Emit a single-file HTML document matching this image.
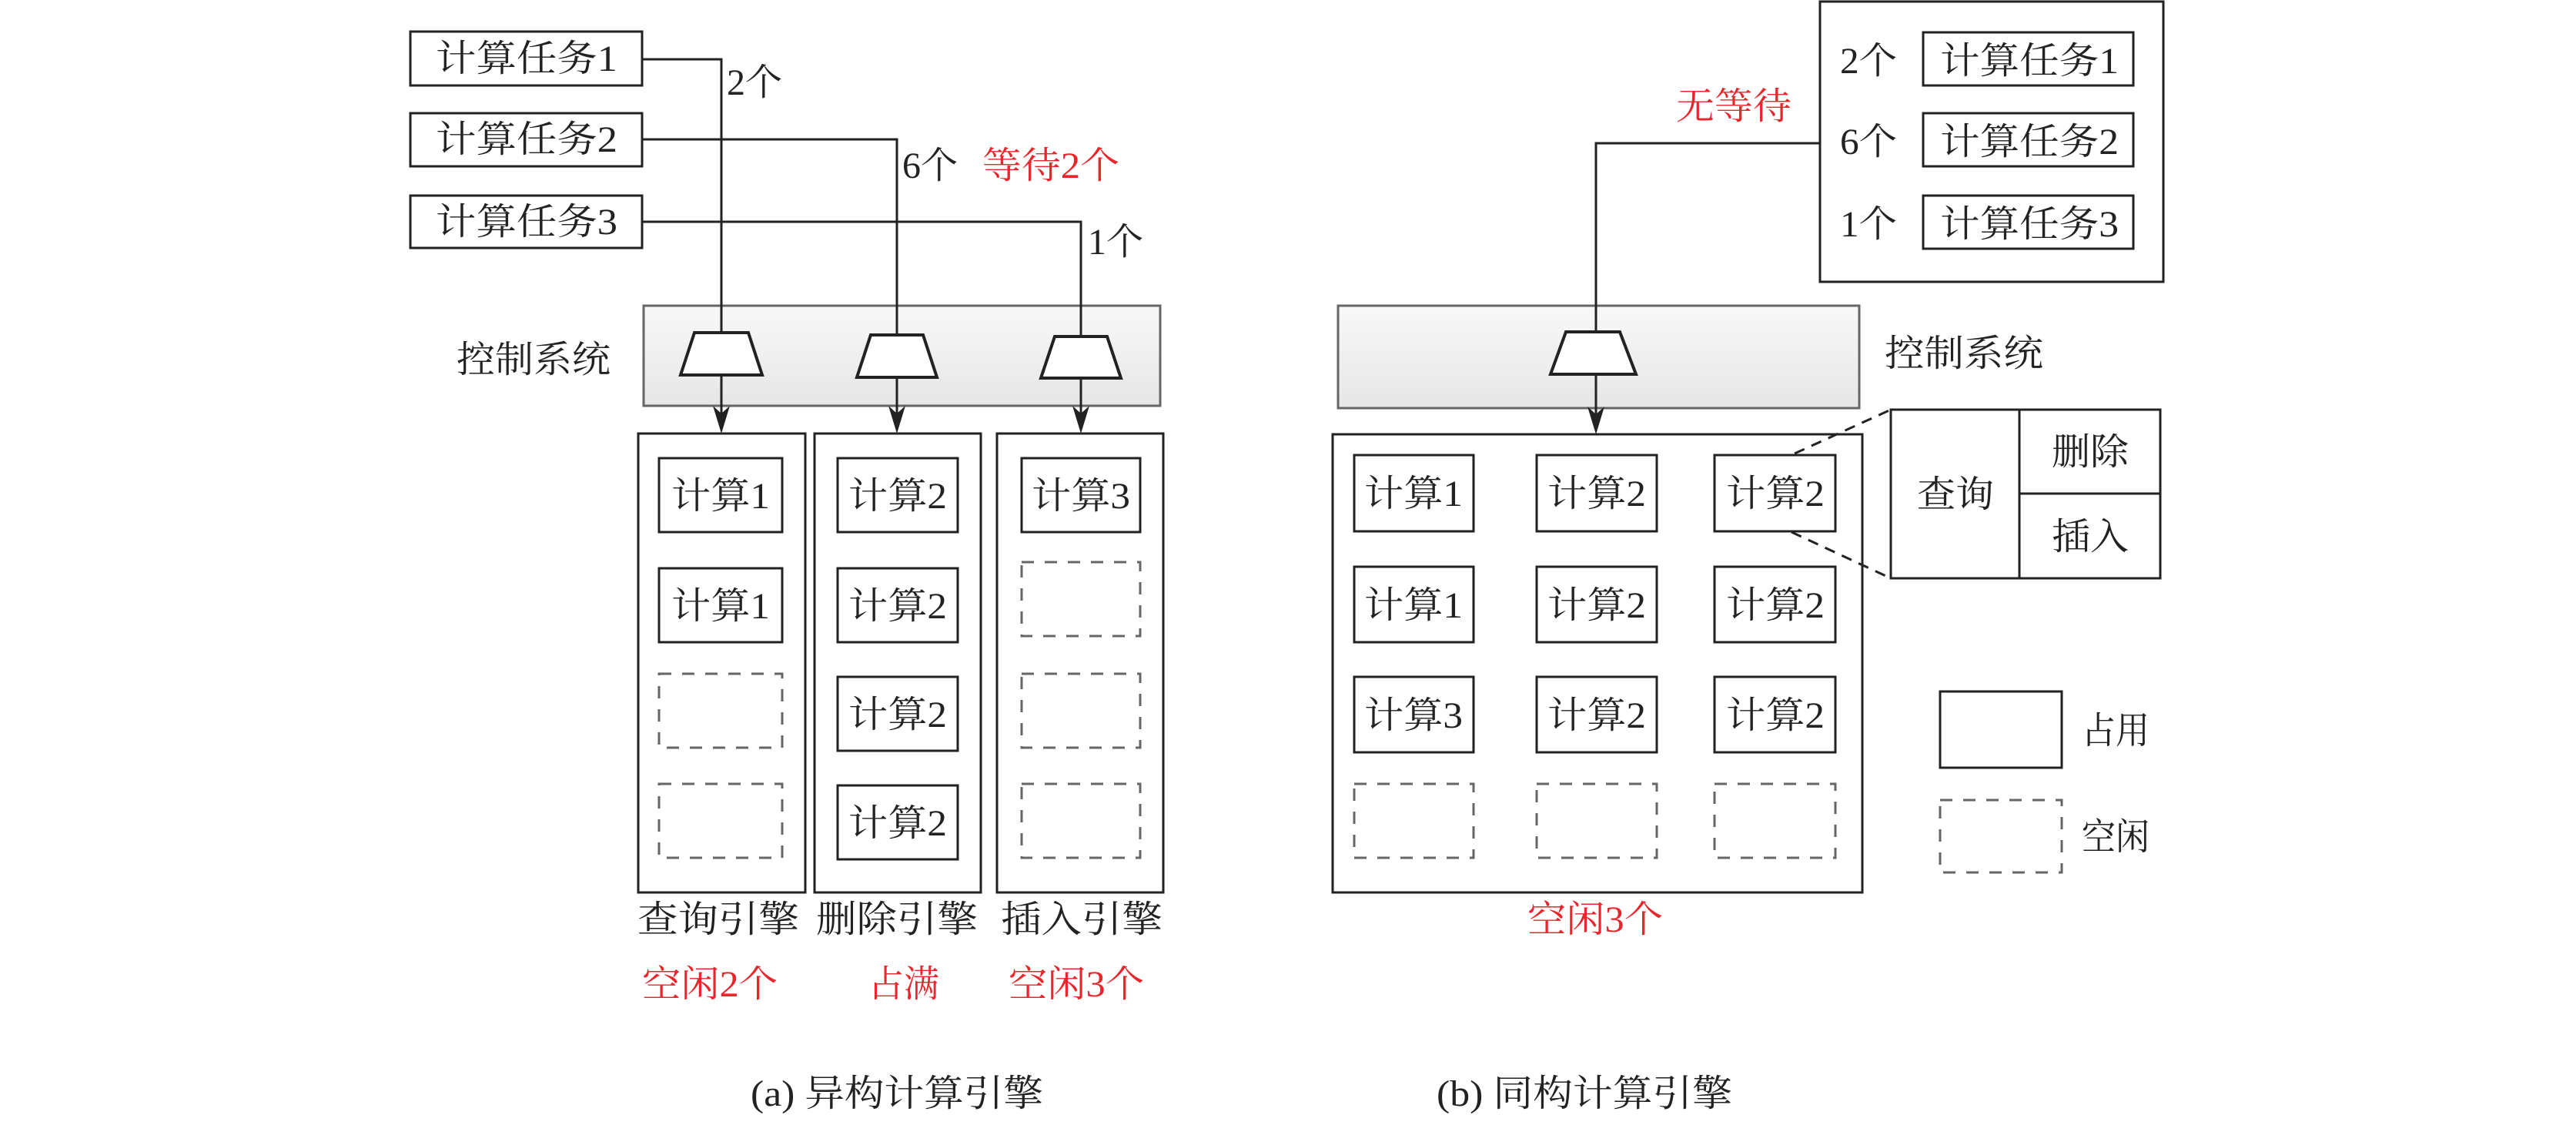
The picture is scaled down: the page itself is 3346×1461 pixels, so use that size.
<!DOCTYPE html>
<html><head><meta charset="utf-8"><style>
html,body{margin:0;padding:0;background:#fff;}
svg{display:block;}
text{font-family:"Liberation Serif","Noto Serif CJK SC",serif;font-size:48px;fill:#222;}
.r{fill:#e8262c;}
</style></head><body>
<svg width="3346" height="1461" viewBox="0 0 3346 1461" xmlns="http://www.w3.org/2000/svg">
<defs>
<linearGradient id="g" x1="0" y1="0" x2="0" y2="1"><stop offset="0" stop-color="#f8f8f8"/><stop offset="1" stop-color="#e6e6e6"/></linearGradient>
</defs>
<g stroke="#222" stroke-width="3" fill="none">
<rect x="533" y="41" width="301" height="70" fill="#fff"/>
<rect x="533" y="147" width="301" height="69" fill="#fff"/>
<rect x="533" y="254" width="301" height="68" fill="#fff"/>
<rect x="836" y="397" width="671" height="130" fill="url(#g)" stroke="#666"/>
<rect x="1738" y="397" width="677" height="133" fill="url(#g)" stroke="#666"/>
<polyline points="834,77 937,77 937,432"/>
<polyline points="834,181 1165,181 1165,435"/>
<polyline points="834,288 1404,288 1404,437"/>
<line x1="937" y1="487" x2="937" y2="540"/>
<line x1="1165" y1="490" x2="1165" y2="540"/>
<line x1="1404" y1="491" x2="1404" y2="540"/>
<polygon points="902,432 972,432 990,487 884,487" fill="#fff" stroke-width="4"/>
<polygon points="1131,435 1199,435 1217,490 1113,490" fill="#fff" stroke-width="4"/>
<polygon points="1370,437 1438,437 1456,491 1352,491" fill="#fff" stroke-width="4"/>
<rect x="829" y="563" width="217" height="596"/>
<rect x="1058" y="563" width="216" height="596"/>
<rect x="1295" y="563" width="216" height="596"/>
<rect x="856" y="595" width="160" height="96"/>
<rect x="856" y="738" width="160" height="96"/>
<rect x="1088" y="595" width="156" height="96"/>
<rect x="1088" y="738" width="156" height="96"/>
<rect x="1088" y="879" width="156" height="96"/>
<rect x="1088" y="1020" width="156" height="96"/>
<rect x="1327" y="595" width="154" height="96"/>
<g stroke="#666" stroke-dasharray="16,14">
<rect x="856" y="875" width="160" height="96"/>
<rect x="856" y="1018" width="160" height="96"/>
<rect x="1327" y="730" width="154" height="96"/>
<rect x="1327" y="875" width="154" height="96"/>
<rect x="1327" y="1018" width="154" height="96"/>
<rect x="1759" y="1018" width="155" height="96"/>
<rect x="1996" y="1018" width="156" height="96"/>
<rect x="2227" y="1018" width="157" height="96"/>
<rect x="2520" y="1039" width="158" height="94"/>
</g>
<rect x="2364" y="2" width="446" height="364"/>
<rect x="2498" y="42" width="273" height="69"/>
<rect x="2498" y="147" width="273" height="69"/>
<rect x="2498" y="254" width="273" height="69"/>
<polyline points="2364,186 2073,186 2073,431"/>
<line x1="2073" y1="486" x2="2073" y2="540"/>
<polygon points="2034,431 2104,431 2125,486 2014,486" fill="#fff" stroke-width="4"/>
<rect x="1731" y="564" width="688" height="595"/>
<rect x="1759" y="591" width="155" height="99"/>
<rect x="1996" y="591" width="156" height="99"/>
<rect x="2227" y="591" width="157" height="99"/>
<rect x="1759" y="736" width="155" height="98"/>
<rect x="1996" y="736" width="156" height="98"/>
<rect x="2227" y="736" width="157" height="98"/>
<rect x="1759" y="879" width="155" height="98"/>
<rect x="1996" y="879" width="156" height="98"/>
<rect x="2227" y="879" width="157" height="98"/>
<rect x="2456" y="532" width="350" height="219"/>
<line x1="2623" y1="532" x2="2623" y2="751"/>
<line x1="2623" y1="641" x2="2806" y2="641"/>
<line x1="2331" y1="589" x2="2456" y2="532" stroke-dasharray="14,10"/>
<line x1="2327" y1="691" x2="2456" y2="751" stroke-dasharray="14,10"/>
<rect x="2520" y="898" width="158" height="99"/>
</g>
<g fill="#222">
<polygon points="926,527 937,537 948,527 937,563"/>
<polygon points="1154,527 1165,537 1176,527 1165,563"/>
<polygon points="1393,527 1404,537 1415,527 1404,563"/>
<polygon points="2062,528 2073,538 2084,528 2073,564"/>
</g>
<g>
<text x="566" y="92" textLength="236" lengthAdjust="spacingAndGlyphs">计算任务1</text>
<text x="566" y="197" textLength="236" lengthAdjust="spacingAndGlyphs">计算任务2</text>
<text x="566" y="304" textLength="236" lengthAdjust="spacingAndGlyphs">计算任务3</text>
<text x="944" y="123" textLength="72" lengthAdjust="spacingAndGlyphs">2个</text>
<text x="1172" y="231" textLength="72" lengthAdjust="spacingAndGlyphs">6个</text>
<text class="r" x="1276" y="231" textLength="178" lengthAdjust="spacingAndGlyphs">等待2个</text>
<text x="1413" y="330" textLength="72" lengthAdjust="spacingAndGlyphs">1个</text>
<text x="593" y="483" textLength="200" lengthAdjust="spacingAndGlyphs">控制系统</text>
<text x="872" y="660" textLength="128" lengthAdjust="spacingAndGlyphs">计算1</text>
<text x="872" y="803" textLength="128" lengthAdjust="spacingAndGlyphs">计算1</text>
<text x="1102" y="660" textLength="128" lengthAdjust="spacingAndGlyphs">计算2</text>
<text x="1102" y="803" textLength="128" lengthAdjust="spacingAndGlyphs">计算2</text>
<text x="1102" y="944" textLength="128" lengthAdjust="spacingAndGlyphs">计算2</text>
<text x="1102" y="1085" textLength="128" lengthAdjust="spacingAndGlyphs">计算2</text>
<text x="1340" y="660" textLength="128" lengthAdjust="spacingAndGlyphs">计算3</text>
<text x="1772" y="657" textLength="128" lengthAdjust="spacingAndGlyphs">计算1</text>
<text x="2010" y="657" textLength="128" lengthAdjust="spacingAndGlyphs">计算2</text>
<text x="2242" y="657" textLength="128" lengthAdjust="spacingAndGlyphs">计算2</text>
<text x="1772" y="802" textLength="128" lengthAdjust="spacingAndGlyphs">计算1</text>
<text x="2010" y="802" textLength="128" lengthAdjust="spacingAndGlyphs">计算2</text>
<text x="2242" y="802" textLength="128" lengthAdjust="spacingAndGlyphs">计算2</text>
<text x="1772" y="945" textLength="128" lengthAdjust="spacingAndGlyphs">计算3</text>
<text x="2010" y="945" textLength="128" lengthAdjust="spacingAndGlyphs">计算2</text>
<text x="2242" y="945" textLength="128" lengthAdjust="spacingAndGlyphs">计算2</text>
<text x="828" y="1210" textLength="210" lengthAdjust="spacingAndGlyphs">查询引擎</text>
<text x="1060" y="1210" textLength="210" lengthAdjust="spacingAndGlyphs">删除引擎</text>
<text x="1300" y="1210" textLength="210" lengthAdjust="spacingAndGlyphs">插入引擎</text>
<text class="r" x="834" y="1294" textLength="176" lengthAdjust="spacingAndGlyphs">空闲2个</text>
<text class="r" x="1128" y="1294" textLength="92" lengthAdjust="spacingAndGlyphs">占满</text>
<text class="r" x="1310" y="1294" textLength="176" lengthAdjust="spacingAndGlyphs">空闲3个</text>
<text class="r" x="1984" y="1210" textLength="176" lengthAdjust="spacingAndGlyphs">空闲3个</text>
<text x="2390" y="95" textLength="74" lengthAdjust="spacingAndGlyphs">2个</text>
<text x="2390" y="200" textLength="74" lengthAdjust="spacingAndGlyphs">6个</text>
<text x="2390" y="307" textLength="74" lengthAdjust="spacingAndGlyphs">1个</text>
<text x="2520" y="95" textLength="232" lengthAdjust="spacingAndGlyphs">计算任务1</text>
<text x="2520" y="200" textLength="232" lengthAdjust="spacingAndGlyphs">计算任务2</text>
<text x="2520" y="307" textLength="232" lengthAdjust="spacingAndGlyphs">计算任务3</text>
<text class="r" x="2177" y="154" textLength="150" lengthAdjust="spacingAndGlyphs">无等待</text>
<text x="2448" y="475" textLength="206" lengthAdjust="spacingAndGlyphs">控制系统</text>
<text x="2490" y="658" textLength="100" lengthAdjust="spacingAndGlyphs">查询</text>
<text x="2665" y="603" textLength="100" lengthAdjust="spacingAndGlyphs">删除</text>
<text x="2665" y="713" textLength="100" lengthAdjust="spacingAndGlyphs">插入</text>
<text x="2704" y="965" textLength="88" lengthAdjust="spacingAndGlyphs">占用</text>
<text x="2704" y="1103" textLength="88" lengthAdjust="spacingAndGlyphs">空闲</text>
<text x="975" y="1436" textLength="380" lengthAdjust="spacingAndGlyphs">(a) 异构计算引擎</text>
<text x="1866" y="1436" textLength="384" lengthAdjust="spacingAndGlyphs">(b) 同构计算引擎</text>
</g>
</svg>
</body></html>
